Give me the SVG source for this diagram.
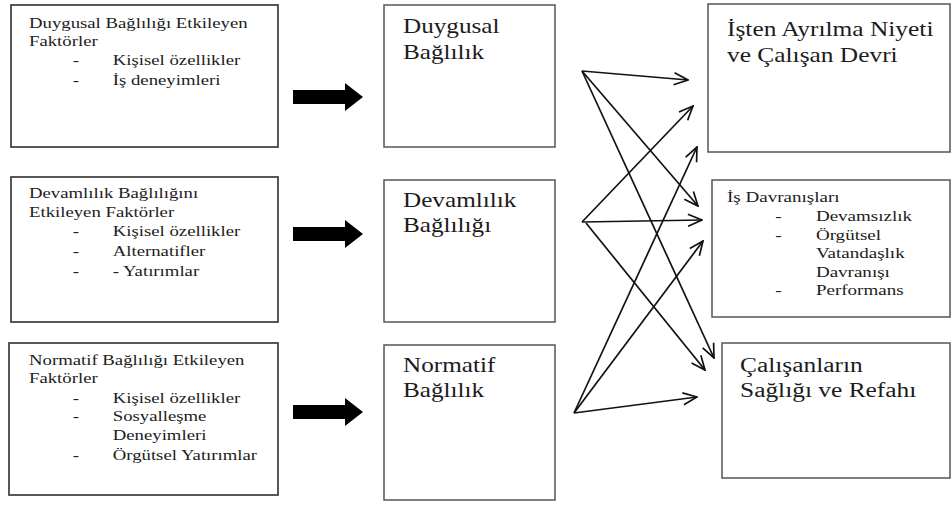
<svg xmlns="http://www.w3.org/2000/svg" width="952" height="506" viewBox="0 0 952 506">
  <style>
    .box { fill: #ffffff; stroke: #3a3a3a; stroke-width: 1.7; }
    .mid { fill: #ffffff; stroke: #555555; stroke-width: 1.5; }
    .txt { font-family: "Liberation Serif", "Times New Roman", serif; fill: #1c1c1c; }
    .sm { font-size: 15px; }
    .lg { font-size: 20px; }
    .xl { font-size: 21px; }
    .thin { fill: none; stroke: #111111; stroke-width: 1.7; marker-end: url(#open); }
    .block { fill: #000000; }
  </style>
  <defs>
    <marker id="open" viewBox="0 0 16 14" refX="15" refY="7" markerWidth="16" markerHeight="14" markerUnits="userSpaceOnUse" orient="auto">
      <path d="M1,1 L15,7 L1,13" fill="none" stroke="#111111" stroke-width="1.7"/>
    </marker>
  </defs>

  <rect width="952" height="506" fill="#ffffff"/>

  <!-- antecedent boxes -->
  <g id="affective-factors">
    <rect class="box" x="11" y="5" width="267" height="142"/>
    <text class="txt sm" transform="translate(29 0) scale(1.25 1)">
      <tspan x="0" y="28">Duygusal Bağlılığı Etkileyen</tspan>
      <tspan x="0" y="46">Faktörler</tspan>
      <tspan x="35" y="65">-</tspan><tspan x="67" y="65">Kişisel özellikler</tspan>
      <tspan x="35" y="85">-</tspan><tspan x="67" y="85">İş deneyimleri</tspan>
    </text>
  </g>

  <g id="continuance-factors">
    <rect class="box" x="11" y="177" width="267" height="145"/>
    <text class="txt sm" transform="translate(29 0) scale(1.25 1)">
      <tspan x="0" y="198">Devamlılık Bağlılığını</tspan>
      <tspan x="0" y="217">Etkileyen Faktörler</tspan>
      <tspan x="35" y="236">-</tspan><tspan x="67" y="236">Kişisel özellikler</tspan>
      <tspan x="35" y="256">-</tspan><tspan x="67" y="256">Alternatifler</tspan>
      <tspan x="35" y="276">-</tspan><tspan x="67" y="276">- Yatırımlar</tspan>
    </text>
  </g>

  <g id="normative-factors">
    <rect class="box" x="9" y="343" width="269" height="152" stroke="#2c3646"/>
    <text class="txt sm" transform="translate(29 0) scale(1.25 1)">
      <tspan x="0" y="365">Normatif Bağlılığı Etkileyen</tspan>
      <tspan x="0" y="383">Faktörler</tspan>
      <tspan x="35" y="403">-</tspan><tspan x="67" y="403">Kişisel özellikler</tspan>
      <tspan x="35" y="421">-</tspan><tspan x="67" y="421">Sosyalleşme</tspan>
      <tspan x="67" y="440">Deneyimleri</tspan>
      <tspan x="35" y="460">-</tspan><tspan x="67" y="460">Örgütsel Yatırımlar</tspan>
    </text>
  </g>

  <!-- commitment components -->
  <g id="affective">
    <rect class="mid" x="384" y="5" width="171" height="142"/>
    <text class="txt lg" transform="translate(403 0) scale(1.26 1)">
      <tspan x="0" y="33">Duygusal</tspan>
      <tspan x="0" y="59">Bağlılık</tspan>
    </text>
  </g>

  <g id="continuance">
    <rect class="mid" x="384" y="180" width="171" height="142"/>
    <text class="txt lg" transform="translate(403 0) scale(1.26 1)">
      <tspan x="0" y="207">Devamlılık</tspan>
      <tspan x="0" y="232">Bağlılığı</tspan>
    </text>
  </g>

  <g id="normative">
    <rect class="mid" x="384" y="345" width="171" height="155"/>
    <text class="txt lg" transform="translate(403 0) scale(1.26 1)">
      <tspan x="0" y="372">Normatif</tspan>
      <tspan x="0" y="397">Bağlılık</tspan>
    </text>
  </g>

  <!-- outcomes -->
  <g id="turnover">
    <rect class="mid" x="708" y="4" width="242" height="148"/>
    <text class="txt xl" transform="translate(727 0) scale(1.21 1)">
      <tspan x="0" y="36">İşten Ayrılma Niyeti</tspan>
      <tspan x="0" y="62">ve Çalışan Devri</tspan>
    </text>
  </g>

  <g id="work-behaviour">
    <rect class="mid" x="712" y="180" width="238" height="137"/>
    <text class="txt sm" transform="translate(727 0) scale(1.27 1)">
      <tspan x="0" y="202">İş Davranışları</tspan>
      <tspan x="38" y="221">-</tspan><tspan x="70" y="221">Devamsızlık</tspan>
      <tspan x="38" y="240">-</tspan><tspan x="70" y="240">Örgütsel</tspan>
      <tspan x="70" y="258">Vatandaşlık</tspan>
      <tspan x="70" y="277">Davranışı</tspan>
      <tspan x="38" y="295">-</tspan><tspan x="70" y="295">Performans</tspan>
    </text>
  </g>

  <g id="wellbeing">
    <rect class="mid" x="722" y="343" width="228" height="135"/>
    <text class="txt lg" transform="translate(740 0) scale(1.27 1)">
      <tspan x="0" y="372">Çalışanların</tspan>
      <tspan x="0" y="397">Sağlığı ve Refahı</tspan>
    </text>
  </g>

  <!-- connectors -->
  <g id="connectors">
    <!-- block arrows: factors to components -->
    <polygon class="block" points="293,90 345,90 345,83 363,97 345,111 345,104 293,104"/>
    <polygon class="block" points="293,227 345,227 345,220 363,234 345,248 345,241 293,241"/>
    <polygon class="block" points="293,405 345,405 345,398 363,412 345,426 345,419 293,419"/>

    <!-- components to outcomes -->
    <line class="thin" x1="582" y1="71" x2="688" y2="80"/>
    <line class="thin" x1="582" y1="71" x2="698" y2="206"/>
    <line class="thin" x1="582" y1="71" x2="714" y2="358"/>

    <line class="thin" x1="582" y1="222" x2="693" y2="106"/>
    <line class="thin" x1="582" y1="222" x2="702" y2="220"/>
    <line class="thin" x1="586" y1="223" x2="705" y2="370"/>

    <line class="thin" x1="574" y1="413" x2="697" y2="147"/>
    <line class="thin" x1="574" y1="413" x2="703" y2="241"/>
    <line class="thin" x1="574" y1="413" x2="697" y2="397"/>
  </g>
</svg>
